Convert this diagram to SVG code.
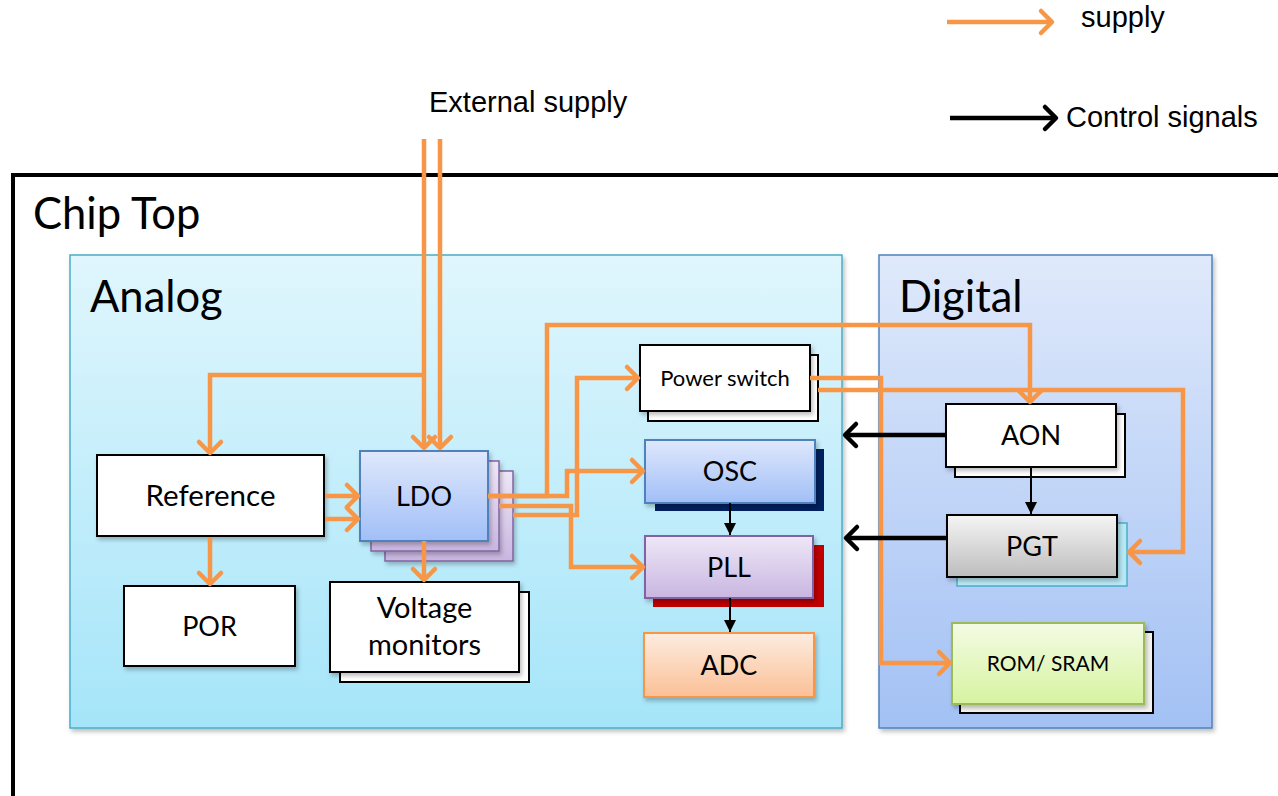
<svg xmlns="http://www.w3.org/2000/svg" width="1278" height="796" viewBox="0 0 1278 796">
<defs>
<style>
.lbl{font-family:Lato,"Open Sans","Liberation Sans",sans-serif;fill:#000;text-anchor:middle}
.leg{font-family:"Liberation Sans",Arial,sans-serif;fill:#000;font-size:29px}
.big{font-family:Lato,"Open Sans","Liberation Sans",sans-serif;fill:#000;font-size:43.5px}
.sup{fill:none;stroke:#f79646;stroke-width:4.5;stroke-linejoin:miter}
.ctl{fill:none;stroke:#000;stroke-width:4.5}
.thin{fill:none;stroke:#000;stroke-width:2}
.wb{fill:#fff;stroke:#000;stroke-width:2}
</style>
<linearGradient id="gAnalog" x1="0" y1="0" x2="0" y2="1"><stop offset="0" stop-color="#e0f6fd"/><stop offset="1" stop-color="#a5e5f9"/></linearGradient>
<linearGradient id="gDigital" x1="0" y1="0" x2="0" y2="1"><stop offset="0" stop-color="#dfe9fb"/><stop offset="1" stop-color="#a3c1f4"/></linearGradient>
<linearGradient id="gBlue" x1="0" y1="0" x2="0" y2="1"><stop offset="0" stop-color="#dfe8fc"/><stop offset="1" stop-color="#a1bff7"/></linearGradient>
<linearGradient id="gPurple" x1="0" y1="0" x2="0" y2="1"><stop offset="0" stop-color="#eee7f7"/><stop offset="1" stop-color="#c9b6e1"/></linearGradient>
<linearGradient id="gOrange" x1="0" y1="0" x2="0" y2="1"><stop offset="0" stop-color="#fdece0"/><stop offset="1" stop-color="#fbc096"/></linearGradient>
<linearGradient id="gGray" x1="0" y1="0" x2="0" y2="1"><stop offset="0" stop-color="#f5f5f5"/><stop offset="1" stop-color="#bdbdbd"/></linearGradient>
<linearGradient id="gGreen" x1="0" y1="0" x2="0" y2="1"><stop offset="0" stop-color="#f4fbe4"/><stop offset="1" stop-color="#d6f3a0"/></linearGradient>
<filter id="sh" x="-10%" y="-10%" width="130%" height="140%"><feDropShadow dx="2" dy="3" stdDeviation="2" flood-color="#000" flood-opacity="0.25"/></filter>
<marker id="ao" markerUnits="userSpaceOnUse" viewBox="-15 -15 19 30" markerWidth="19" markerHeight="30" refX="0" refY="0" orient="auto"><path d="M-11,-11 L0,0 L-11,11" fill="none" stroke="#f79646" stroke-width="4.5" stroke-linecap="round" stroke-linejoin="round"/></marker>
<marker id="ak" markerUnits="userSpaceOnUse" viewBox="-15 -15 19 30" markerWidth="19" markerHeight="30" refX="0" refY="0" orient="auto"><path d="M-11,-11 L0,0 L-11,11" fill="none" stroke="#000" stroke-width="4.5" stroke-linecap="round" stroke-linejoin="round"/></marker>
<marker id="at" markerUnits="userSpaceOnUse" viewBox="-13 -7 14 14" markerWidth="14" markerHeight="14" refX="0" refY="0" orient="auto"><path d="M-12,-6 L0,0 L-12,6 Z" fill="#000"/></marker>
</defs>
<rect width="1278" height="796" fill="#fff"/>

<g id="legend">
<path class="sup" d="M947,22 H1052" marker-end="url(#ao)"/>
<text class="leg" x="1081" y="27">supply</text>
<path class="ctl" d="M950,118 H1056" marker-end="url(#ak)"/>
<text class="leg" x="1066" y="127">Control signals</text>
<text class="leg" x="429" y="112">External supply</text>
</g>

<g id="chip-top">
<path d="M13,796 V175 H1278" fill="none" stroke="#000" stroke-width="4"/>
<text class="big" x="33" y="229">Chip Top</text>
</g>

<g id="analog">
<rect x="70" y="255" width="772" height="473" fill="url(#gAnalog)" stroke="#4bacc6" stroke-width="1.5" filter="url(#sh)"/>
<text class="big" x="90" y="312">Analog</text>
</g>

<g id="digital">
<rect x="879" y="255" width="333" height="473" fill="url(#gDigital)" stroke="#4f81bd" stroke-width="1.5" filter="url(#sh)"/>
<text class="big" x="899" y="312">Digital</text>
</g>

<g id="reference">
<rect class="wb" x="97" y="455" width="227" height="81" filter="url(#sh)"/>
<text class="lbl" x="210.5" y="506" font-size="29.5">Reference</text>
</g>

<g id="por">
<rect class="wb" x="124" y="586" width="171" height="80" filter="url(#sh)"/>
<text class="lbl" x="209.5" y="636" font-size="27">POR</text>
</g>

<g id="ldo">
<rect x="385" y="471" width="128" height="90" fill="url(#gPurple)" stroke="#8064a2" stroke-width="1.5" filter="url(#sh)"/>
<rect x="371" y="461" width="128" height="90" fill="url(#gPurple)" stroke="#8064a2" stroke-width="1.5" filter="url(#sh)"/>
<rect x="360" y="451" width="128" height="90" fill="url(#gBlue)" stroke="#4f81bd" stroke-width="2" filter="url(#sh)"/>
<text class="lbl" x="424" y="506" font-size="27">LDO</text>
</g>

<g id="voltage-monitors">
<rect class="wb" x="340" y="592" width="189" height="90"/>
<rect class="wb" x="330" y="582" width="189" height="90" filter="url(#sh)"/>
<text class="lbl" x="424.5" y="618" font-size="29">Voltage</text>
<text class="lbl" x="424.5" y="655" font-size="29">monitors</text>
</g>

<g id="power-switch">
<rect class="wb" x="648" y="355" width="170" height="66"/>
<rect class="wb" x="640" y="345" width="170" height="66" filter="url(#sh)"/>
<text class="lbl" x="725" y="386" font-size="22">Power switch</text>
</g>

<g id="osc">
<rect x="655" y="449" width="169" height="62" fill="#002060"/>
<rect x="645" y="440" width="170" height="63" fill="url(#gBlue)" stroke="#4f81bd" stroke-width="2" filter="url(#sh)"/>
<text class="lbl" x="730" y="481" font-size="27">OSC</text>
</g>

<g id="pll">
<rect x="653" y="545" width="171" height="62" fill="#c00000"/>
<rect x="645" y="536" width="168" height="62" fill="url(#gPurple)" stroke="#8064a2" stroke-width="2" filter="url(#sh)"/>
<text class="lbl" x="729" y="577" font-size="27">PLL</text>
</g>

<g id="adc">
<rect x="644" y="633" width="170" height="64" fill="url(#gOrange)" stroke="#f79646" stroke-width="2" filter="url(#sh)"/>
<text class="lbl" x="729" y="675" font-size="27">ADC</text>
</g>

<g id="aon">
<rect class="wb" x="955" y="414" width="170" height="63"/>
<rect class="wb" x="946" y="404" width="170" height="63" filter="url(#sh)"/>
<text class="lbl" x="1031" y="445" font-size="27">AON</text>
</g>

<g id="pgt">
<rect x="957" y="523" width="170" height="63" fill="#b7e9f5" stroke="#4bacc6" stroke-width="1.5"/>
<rect x="947" y="515" width="170" height="62" fill="url(#gGray)" stroke="#000" stroke-width="2" filter="url(#sh)"/>
<text class="lbl" x="1032" y="556" font-size="27">PGT</text>
</g>

<g id="rom-sram">
<rect x="960" y="632" width="193" height="81" fill="#f3f3ef" stroke="#000" stroke-width="2"/>
<rect x="952" y="623" width="192" height="81" fill="url(#gGreen)" stroke="#9bbb59" stroke-width="2" filter="url(#sh)"/>
<text class="lbl" x="1048" y="671" font-size="21">ROM/ SRAM</text>
</g>

<g id="connectors">
<path class="sup" d="M424,139 V448" marker-end="url(#ao)"/>
<path class="sup" d="M440,139 V448" marker-end="url(#ao)"/>
<path class="sup" d="M424,375 H210 V453" marker-end="url(#ao)"/>
<path class="sup" d="M210,537 V584" marker-end="url(#ao)"/>
<path class="sup" d="M325,496 H358" marker-end="url(#ao)"/>
<path class="sup" d="M325,519 H358" marker-end="url(#ao)"/>
<path class="sup" d="M424,541 V580" marker-end="url(#ao)"/>
<path class="sup" d="M488,496 H547 V325 H1030 V402" marker-end="url(#ao)"/>
<path class="sup" d="M488,496 H567 V471 H643" marker-end="url(#ao)"/>
<path class="sup" d="M499,506 H571 V567 H643" marker-end="url(#ao)"/>
<path class="sup" d="M513,515 H577 V378 H638" marker-end="url(#ao)"/>
<path class="sup" d="M810,378 H881 V663 H950" marker-end="url(#ao)"/>
<path class="sup" d="M818,390 H1183 V552 H1129" marker-end="url(#ao)"/>
<path class="ctl" d="M946,435 H845" marker-end="url(#ak)"/>
<path class="ctl" d="M947,538 H846" marker-end="url(#ak)"/>
<path class="thin" d="M1031,467 V514" marker-end="url(#at)"/>
<path class="thin" d="M730,503 V535" marker-end="url(#at)"/>
<path class="thin" d="M730,598 V632" marker-end="url(#at)"/>
</g>
</svg>
